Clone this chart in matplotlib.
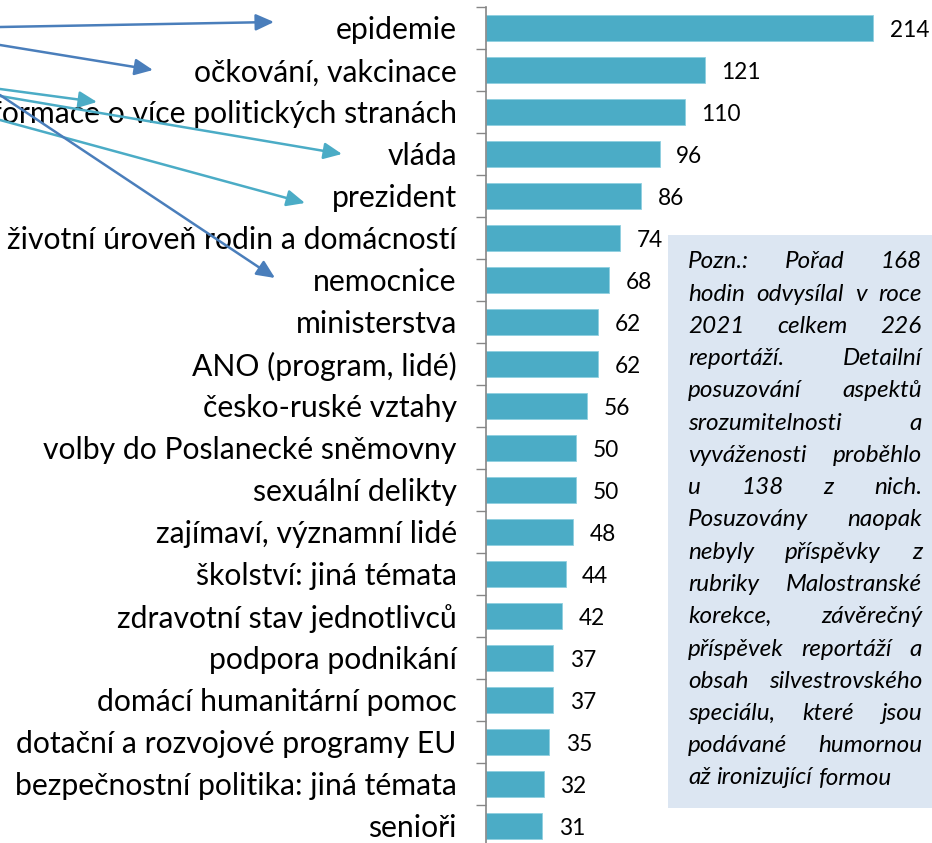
import numpy as np
import matplotlib
matplotlib.use("Agg")
import matplotlib.pyplot as plt
from matplotlib.patches import Rectangle

categories = [
    "epidemie", "očkování, vakcinace", "informace o více politických stranách",
    "vláda", "prezident", "životní úroveň rodin a domácností", "nemocnice",
    "ministerstva", "ANO (program, lidé)", "česko-ruské vztahy",
    "volby do Poslanecké sněmovny", "sexuální delikty", "zajímaví, významní lidé",
    "školství: jiná témata", "zdravotní stav jednotlivců", "podpora podnikání",
    "domácí humanitární pomoc", "dotační a rozvojové programy EU",
    "bezpečnostní politika: jiná témata", "senioři",
]
values = [214, 121, 110, 96, 86, 74, 68, 62, 62, 56, 50, 50, 48, 44, 42, 37, 37, 35, 32, 31]

note_lines = [
    "Pozn.: Pořad 168", "hodin odvysílal v roce", "2021 celkem 226",
    "reportáží. Detailní", "posuzování aspektů", "srozumitelnosti a",
    "vyváženosti proběhlo", "u 138 z nich.", "Posuzovány naopak",
    "nebyly příspěvky z", "rubriky Malostranské", "korekce, závěrečný",
    "příspěvek reportáží a", "obsah silvestrovského", "speciálu, které jsou",
    "podávané humornou", "až ironizující formou",
]

W, H = 932, 843
plt.rcParams['font.family'] = ['Lato', 'DejaVu Sans']

fig = plt.figure(figsize=(W / 100, H / 100), dpi=100)
ax = fig.add_axes([486 / W, -4 / H, 1 - 486 / W, 840 / H])

y = np.arange(len(categories))
ax.barh(y, values, height=0.64, color="#4bacc6", edgecolor="#8fd0e0", linewidth=0.6)
for yi, v in zip(y, values):
    ax.annotate(str(v), (v, yi), xytext=(12, -2), textcoords="offset points",
                va="center", ha="left", fontsize=16.3)

ax.set_xlim(0, 446 / 1.808)
ax.set_ylim(len(categories) - 0.5, -0.5)
ax.set_yticks(y)
ax.set_yticklabels(categories, fontsize=21.7)
ax.tick_params(axis="y", which="major", length=0, pad=21)
ax.set_yticks(np.arange(-0.5, len(categories), 1), minor=True)
ax.tick_params(axis="y", which="minor", length=7.2, width=1, color="#868686")
ax.xaxis.set_visible(False)
for s in ["top", "right", "bottom"]:
    ax.spines[s].set_visible(False)
ax.spines["left"].set_color("#868686")
ax.spines["left"].set_linewidth(1.2)

# arrows (image pixel coords: start -> tip)
dark, light = "#4a7ebb", "#4bacc6"
arrows = [
    ((0, 27), (274, 22), dark),
    ((0, 45), (153, 70), dark),
    ((0, 89), (97, 102), light),
    ((0, 96), (342, 154), light),
    ((0, 120), (305, 203), light),
    ((0, 95), (275, 278), dark),
]
for (x0, y0), (x1, y1), c in arrows:
    ax.annotate("", xy=(x1 / W, 1 - y1 / H), xytext=(x0 / W, 1 - y0 / H),
                xycoords="figure fraction", textcoords="figure fraction",
                arrowprops=dict(arrowstyle="-|>,head_length=0.55,head_width=0.25",
                                mutation_scale=20, lw=1.8, color=c,
                                shrinkA=0, shrinkB=0),
                annotation_clip=False)

# note box
fig.patches.append(Rectangle((668 / W, 1 - 808 / H), (W - 668) / W, (808 - 235) / H,
                             transform=fig.transFigure, facecolor="#dce6f2",
                             edgecolor="none", zorder=0))

# justified note text
renderer = fig.canvas.get_renderer()
tx0, tx1 = 688, 922
nfs = 17.5
sp = fig.text(0, 0, "a a", fontsize=nfs, style="italic")
sp2 = fig.text(0, 0, "aa", fontsize=nfs, style="italic")
space = sp.get_window_extent(renderer).width - sp2.get_window_extent(renderer).width
sp.remove()
sp2.remove()
for i, line in enumerate(note_lines):
    yy = 1 - (262 + i * 32.25) / H
    words = line.split()
    texts = [fig.text(0, yy, w, fontsize=nfs, style="italic", va="center", ha="left")
             for w in words]
    widths = [t.get_window_extent(renderer).width for t in texts]
    if i == len(note_lines) - 1 or len(words) == 1:
        gap = space
    else:
        gap = max(space * 0.6, (tx1 - tx0 - sum(widths)) / (len(words) - 1))
    x = tx0
    for t, w in zip(texts, widths):
        t.set_x(x / W)
        x += w + gap

fig.savefig("out.png", dpi=100)
